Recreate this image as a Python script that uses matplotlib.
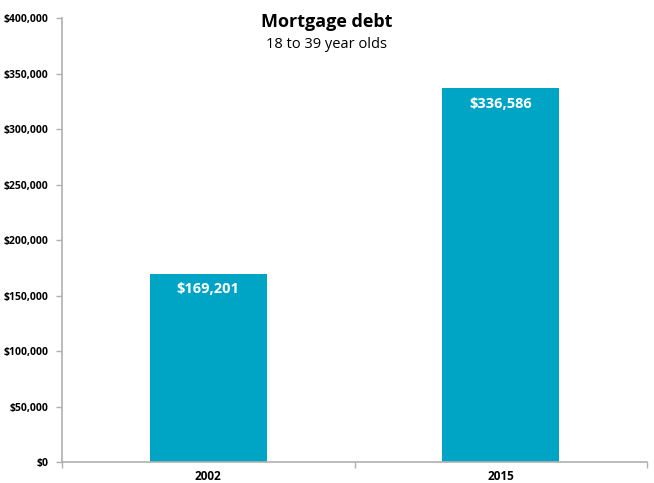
import matplotlib
matplotlib.use("Agg")
import matplotlib.pyplot as plt
import numpy as np

categories = ["2002", "2015"]
values = [169201, 336586]
value_labels = ["$169,201", "$336,586"]
yticks = [0, 50000, 100000, 150000, 200000, 250000, 300000, 350000, 400000]
ytick_labels = ["$0", "$50,000", "$100,000", "$150,000", "$200,000", "$250,000", "$300,000", "$350,000", "$400,000"]

plt.rcParams['font.family'] = ['Open Sans', 'DejaVu Sans']

W, H = 654, 483
fig = plt.figure(figsize=(W/100, H/100), dpi=100)
ax = fig.add_axes([62/W, 1-462/H, (647-62)/W, (462-18)/H])

x = np.arange(len(categories))
bar_color = "#00A5C6"
ax.bar(x, values, width=0.4, color=bar_color, zorder=2)
for xi, v, lab in zip(x, values, value_labels):
    ax.annotate(lab, (xi, v), xytext=(0, -11), textcoords="offset points",
                ha="center", va="center", color="white", fontsize=10.5, fontweight="bold")

ax.set_xlim(-0.5, 1.5)
ax.set_ylim(0, 400000)
ax.set_yticks(yticks)
ax.set_yticklabels(ytick_labels, fontsize=7.5, fontweight="bold")
ax.set_xticks(x)
ax.set_xticklabels(categories, fontsize=8.5, fontweight="bold")
ax.tick_params(axis="x", length=0, pad=6)
ax.set_xticks([-0.5, 0.5, 1.5], minor=True)
ax.tick_params(axis="x", which="minor", length=4, color="#b0b0b0", width=1)
ax.tick_params(axis="y", length=4, color="#b0b0b0", width=1, pad=6)

for s in ["top", "right"]:
    ax.spines[s].set_visible(False)
for s in ["left", "bottom"]:
    ax.spines[s].set_color("#b0b0b0")
    ax.spines[s].set_linewidth(1.2)

fig.text(327/W, 1-22/H, "Mortgage debt", ha="center", va="center", fontsize=13, fontweight="bold")
fig.text(327/W, 1-45/H, "18 to 39 year olds", ha="center", va="center", fontsize=10.5)

fig.savefig("out.png", dpi=100)
